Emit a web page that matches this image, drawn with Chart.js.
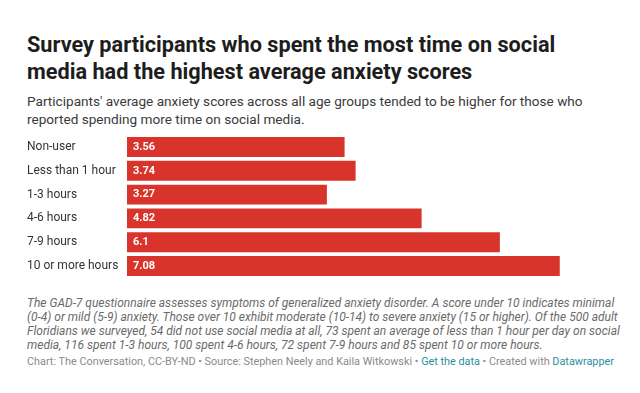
<!DOCTYPE html>
<html>
<head>
<meta charset="utf-8">
<script src="https://cdn.jsdelivr.net/npm/chart.js@4/dist/chart.umd.min.js"></script>
<style>
  body { margin: 0; width: 640px; height: 393px; background: #fff; font-family: Roboto, "Noto Sans", sans-serif; position: relative; overflow: hidden; }
  .title { position: absolute; left: 27px; top: 31px; margin: 0; font-size: 21.7px; line-height: 27px; font-weight: 700; color: #1d1d1d; white-space: nowrap; }
  .subtitle { position: absolute; left: 27px; top: 92px; margin: 0; font-size: 13.6px; line-height: 18px; color: #3a3a3a; white-space: nowrap; }
  #chart-box { position: absolute; left: 0; top: 128px; width: 640px; height: 157px; }
  .notes { position: absolute; left: 27px; top: 296px; margin: 0; font-size: 12px; line-height: 14px; font-style: italic; color: #6a6a6a; white-space: nowrap; }
  .credits { position: absolute; left: 27px; top: 355px; margin: 0; font-size: 10.85px; line-height: 14px; color: #8a8a8a; white-space: nowrap; }
  .credits a { color: #2a8fa0; text-decoration: none; }
</style>
</head>
<body>
<h1 class="title">Survey participants who spent the most time on social<br>media had the highest average anxiety scores</h1>
<p class="subtitle">Participants' average anxiety scores across all age groups tended to be higher for those who<br>reported spending more time on social media.</p>
<div id="chart-box"><canvas id="chart"></canvas></div>
<p class="notes">The GAD-7 questionnaire assesses symptoms of generalized anxiety disorder. A score under 10 indicates minimal<br>(0-4) or mild (5-9) anxiety. Those over 10 exhibit moderate (10-14) to severe anxiety (15 or higher). Of the 500 adult<br>Floridians we surveyed, 54 did not use social media at all, 73 spent an average of less than 1 hour per day on social<br>media, 116 spent 1-3 hours, 100 spent 4-6 hours, 72 spent 7-9 hours and 85 spent 10 or more hours.</p>
<p class="credits">Chart: The Conversation, CC-BY-ND • Source: Stephen Neely and Kaila Witkowski • <a>Get the data</a> • Created with <a>Datawrapper</a></p>
<script>
// dados do grafico
const categories = ['Non-user', 'Less than 1 hour', '1-3 hours', '4-6 hours', '7-9 hours', '10 or more hours'];
const anxietyScores = [3.56, 3.74, 3.27, 4.82, 6.1, 7.08];
const valueLabels = ['3.56', '3.74', '3.27', '4.82', '6.1', '7.08'];

// rotulos brancos dentro das barras
const insideLabels = {
    id: 'insideLabels',
    afterDatasetsDraw(chart) {
        const ctx = chart.ctx;
        const meta = chart.getDatasetMeta(0);
        ctx.save();
        ctx.font = 'bold 11px Roboto, sans-serif';
        ctx.fillStyle = '#fff';
        ctx.textBaseline = 'middle';
        ctx.textAlign = 'left';
        meta.data.forEach((bar, i) => {
            ctx.fillText(valueLabels[i], bar.base + 6, bar.y);
        });
        ctx.restore();
    }
};

new Chart(document.getElementById('chart'), {
    type: 'bar',
    data: {
        labels: categories,
        datasets: [{
            data: anxietyScores,
            backgroundColor: '#d8342b',
            borderWidth: 0,
            categoryPercentage: 1,
            barPercentage: 0.84
        }]
    },
    options: {
        indexAxis: 'y',
        responsive: true,
        maintainAspectRatio: false,
        animation: false,
        layout: { padding: { left: 27, right: 24, top: 0, bottom: 0 } },
        plugins: { legend: { display: false }, tooltip: { enabled: false } },
        scales: {
            x: { display: false, min: 0, max: 8 },
            y: {
                grid: { display: false },
                border: { display: false },
                afterFit(scale) { scale.width = 100; },
                ticks: {
                    crossAlign: 'far',
                    padding: 0,
                    color: '#333',
                    font: { family: 'Roboto', size: 12 }
                }
            }
        }
    },
    plugins: [insideLabels]
});
</script>
</body>
</html>
